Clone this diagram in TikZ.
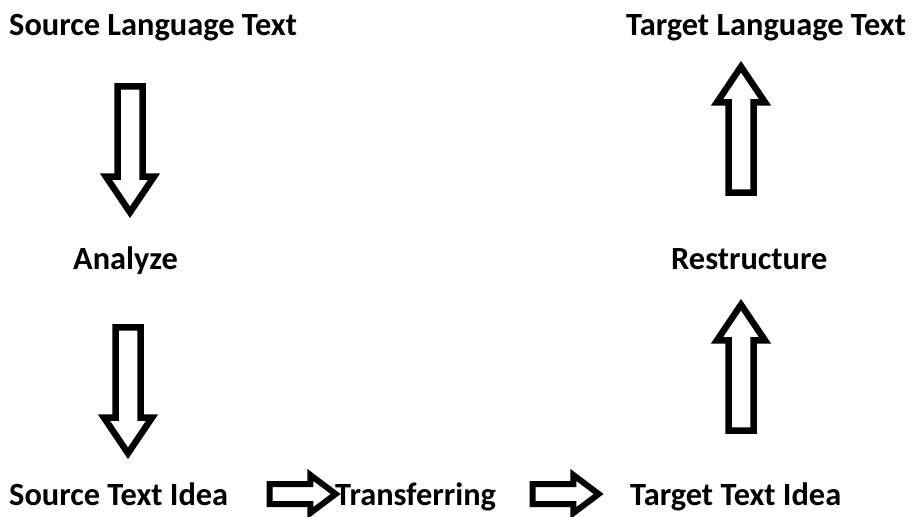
\documentclass[tikz,border=0pt]{standalone}
\usepackage{fontspec}
\setmainfont{Carlito}
\usetikzlibrary{shapes.arrows}
\begin{document}
\begin{tikzpicture}[x=1bp, y=-1bp,
        label/.style = {anchor=base west, inner sep=0pt, font=\fontsize{32.5}{38}\selectfont\bfseries},
        blockarrow/.style = {draw, single arrow, line width=6.5bp, inner sep=9.25bp,
            single arrow head extend=11.5bp, single arrow tip angle=68, minimum height=126bp},
        flatarrow/.style = {draw, single arrow, line width=6bp, inner sep=7bp,
            single arrow head extend=9bp, single arrow tip angle=74, minimum height=66bp}]
    \useasboundingbox (0,0) rectangle (914,517);
    \node [label] (src) at (9,36) {Source Language Text};
    \node [label] (tgt) at (626,36) {Target Language Text};
    \node [label] (ana) at (73,270) {Analyze};
    \node [label] (res) at (671,270) {Restructure};
    \node [label] (sidea) at (9,505) {Source Text Idea};
    \node [label] (trans) at (335,505) {Transferring};
    \node [label] (tidea) at (630,505) {Target Text Idea};
    \node [blockarrow, rotate=-90] (down1) at (130,140) {};
    \node [blockarrow, rotate=-90] (down2) at (128,381) {};
    \node [blockarrow, rotate=90] (up1) at (741,139) {};
    \node [blockarrow, rotate=90] (up2) at (741,377) {};
    \node [flatarrow] (right1) at (296,494) {};
    \node [flatarrow] (right2) at (559,494) {};
\end{tikzpicture}
\end{document}
